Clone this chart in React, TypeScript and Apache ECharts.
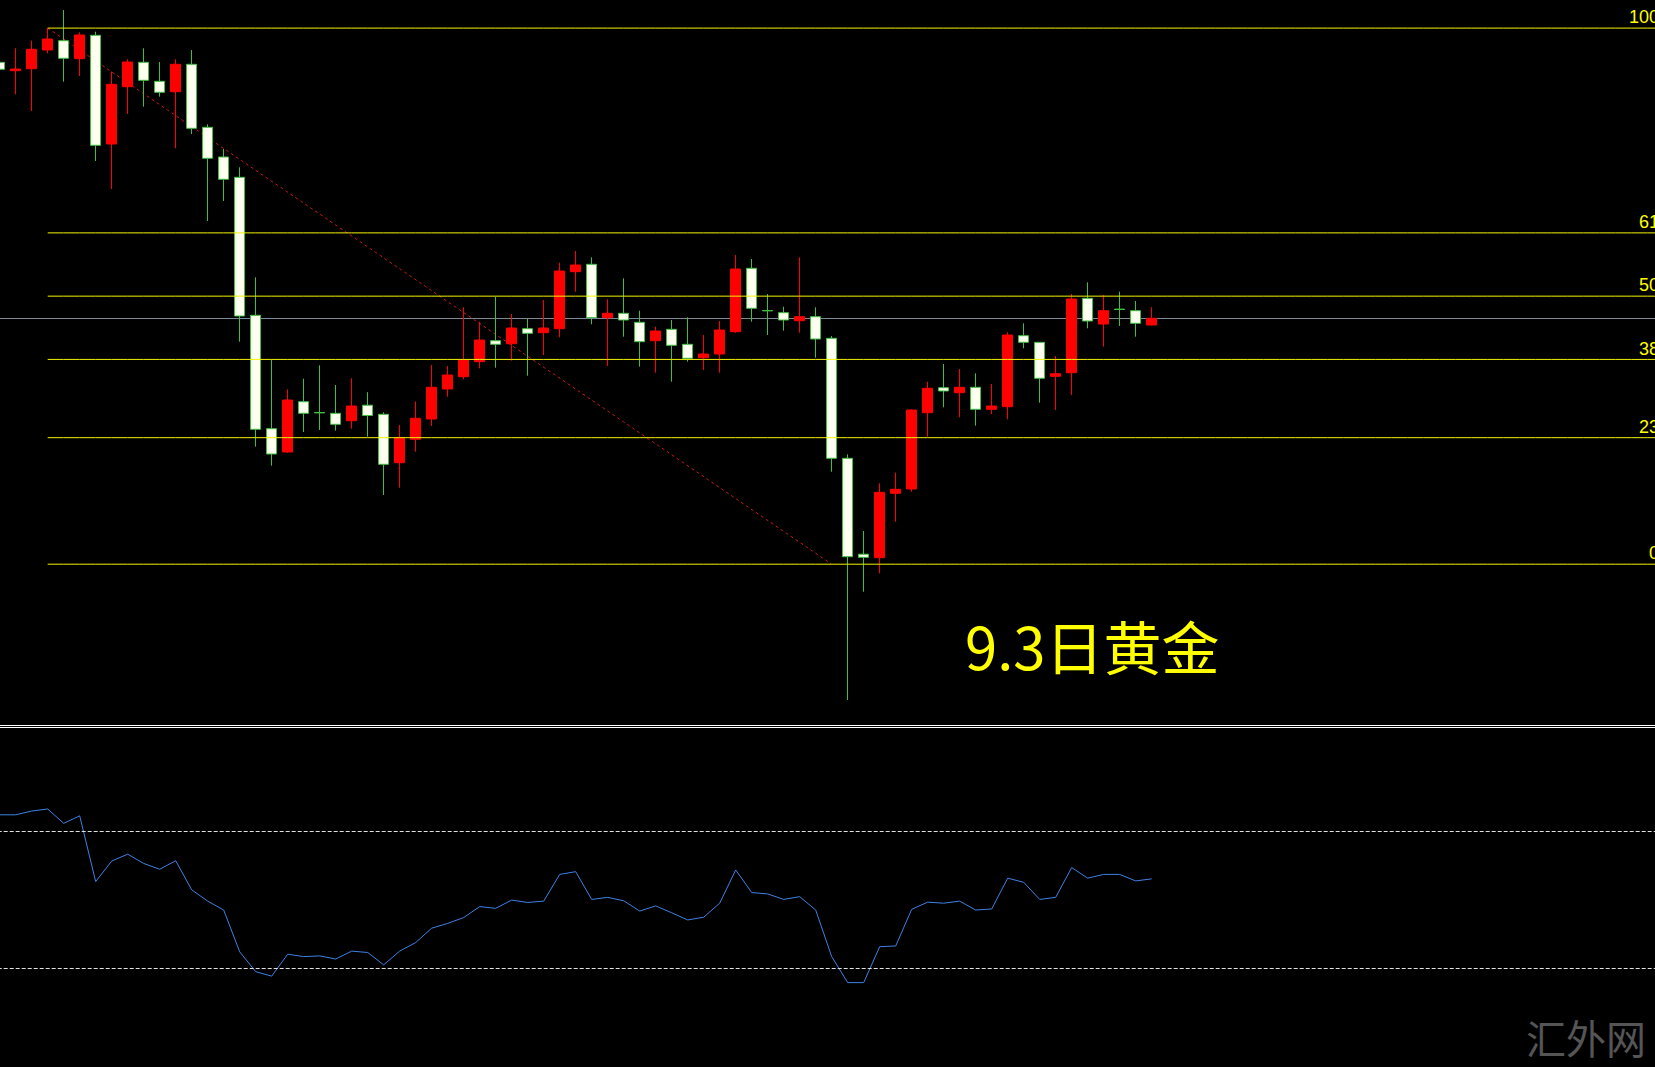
import React, { useEffect, useRef } from 'react';
import * as echarts from 'echarts';

// category slots (hourly bars); only the first 73 carry data, the rest is empty space on the right
const categories: string[] = Array.from({ length: 105 }, (_, i) => String(i));

// candles: [open, close, low, high]  (red = up, white = down)
const candles: number[][] = [
  [1970.19, 1969.49, 1969.42, 1970.32],
  [1969.35, 1969.52, 1966.99, 1971.59],
  [1969.55, 1971.49, 1965.32, 1972.35],
  [1971.42, 1972.52, 1971.09, 1973.61],
  [1972.35, 1970.59, 1968.25, 1975.42],
  [1970.55, 1972.92, 1968.82, 1973.19],
  [1972.89, 1961.89, 1960.32, 1973.25],
  [1962.02, 1967.99, 1957.52, 1969.25],
  [1967.75, 1970.22, 1965.02, 1970.49],
  [1970.19, 1968.39, 1965.75, 1971.59],
  [1968.29, 1967.19, 1966.75, 1970.22],
  [1967.25, 1969.99, 1961.59, 1970.49],
  [1969.99, 1963.59, 1963.02, 1971.42],
  [1963.69, 1960.59, 1954.32, 1963.99],
  [1960.72, 1958.49, 1956.32, 1961.52],
  [1958.69, 1944.82, 1942.25, 1959.69],
  [1944.89, 1933.49, 1931.75, 1948.69],
  [1933.55, 1931.02, 1929.85, 1940.49],
  [1931.22, 1936.42, 1931.12, 1937.49],
  [1936.25, 1935.09, 1933.22, 1938.55],
  [1935.17, 1935.13, 1933.42, 1939.89],
  [1935.09, 1933.99, 1933.35, 1937.92],
  [1934.35, 1935.82, 1933.55, 1938.59],
  [1935.90, 1934.87, 1932.75, 1937.20],
  [1934.99, 1929.99, 1926.92, 1935.19],
  [1930.15, 1932.65, 1927.65, 1933.92],
  [1932.49, 1934.59, 1931.25, 1936.27],
  [1934.52, 1937.69, 1933.82, 1939.92],
  [1937.52, 1938.92, 1936.75, 1939.82],
  [1938.75, 1940.42, 1938.49, 1945.69],
  [1940.25, 1942.42, 1939.59, 1944.25],
  [1942.35, 1941.99, 1939.65, 1946.75],
  [1942.05, 1943.62, 1940.35, 1945.02],
  [1943.55, 1943.09, 1938.85, 1944.52],
  [1943.15, 1943.62, 1940.92, 1946.42],
  [1943.55, 1949.32, 1942.69, 1950.15],
  [1949.25, 1949.92, 1947.25, 1951.32],
  [1949.99, 1944.65, 1943.99, 1950.69],
  [1944.65, 1945.09, 1939.82, 1946.49],
  [1945.09, 1944.42, 1942.75, 1948.59],
  [1944.19, 1942.25, 1939.75, 1945.35],
  [1942.35, 1943.32, 1939.15, 1943.75],
  [1943.49, 1941.89, 1938.25, 1944.42],
  [1941.99, 1940.59, 1940.25, 1944.69],
  [1940.65, 1941.02, 1939.42, 1942.92],
  [1941.02, 1943.42, 1939.15, 1944.32],
  [1943.25, 1949.52, 1943.12, 1950.92],
  [1949.59, 1945.59, 1944.25, 1950.52],
  [1945.37, 1945.33, 1942.92, 1947.02],
  [1945.15, 1944.42, 1943.35, 1945.75],
  [1944.35, 1944.75, 1943.15, 1950.69],
  [1944.75, 1942.52, 1940.65, 1945.69],
  [1942.59, 1930.59, 1929.25, 1942.82],
  [1930.59, 1920.75, 1906.42, 1930.99],
  [1921.00, 1920.69, 1917.25, 1923.32],
  [1920.65, 1927.19, 1919.09, 1928.09],
  [1927.09, 1927.49, 1924.25, 1929.15],
  [1927.52, 1935.42, 1927.25, 1935.49],
  [1935.15, 1937.59, 1932.75, 1938.25],
  [1937.65, 1937.32, 1935.69, 1940.02],
  [1937.15, 1937.69, 1934.69, 1939.52],
  [1937.69, 1935.49, 1933.85, 1939.09],
  [1935.49, 1935.82, 1935.02, 1938.02],
  [1935.75, 1942.92, 1934.49, 1943.19],
  [1942.85, 1942.19, 1941.59, 1944.09],
  [1942.19, 1938.59, 1936.15, 1942.22],
  [1938.79, 1939.05, 1935.42, 1940.82],
  [1939.15, 1946.52, 1936.92, 1947.02],
  [1946.59, 1944.32, 1943.59, 1948.19],
  [1944.02, 1945.35, 1941.75, 1946.92],
  [1945.51, 1945.47, 1943.82, 1947.25],
  [1945.35, 1944.09, 1942.75, 1946.32],
  [1943.92, 1944.59, 1943.89, 1945.69],
];

// RSI values, one per candle
const rsi: number[] = [
  74.8, 74.8, 75.9, 76.5, 72.3, 74.5, 55.3, 61.3, 63.3, 60.6,
  58.9, 61.4, 52.9, 49.6, 47.0, 34.8, 29.0, 27.7, 34.1, 33.4,
  33.6, 32.7, 35.0, 34.6, 31.0, 35.0, 37.5, 41.7, 43.1, 44.8,
  48.0, 47.5, 49.9, 49.2, 49.6, 57.4, 58.2, 50.1, 50.7, 49.7,
  46.7, 48.2, 46.2, 44.1, 44.9, 49.0, 58.7, 52.1, 51.7, 50.1,
  50.9, 47.0, 33.4, 25.8, 25.8, 36.3, 36.5, 47.2, 49.3, 49.0,
  49.6, 47.0, 47.3, 56.3, 55.1, 50.1, 50.7, 59.4, 56.3, 57.4,
  57.4, 55.5, 56.1,
];
const rsiLevels = [70, 30];

// Fibonacci retracement
const fibHigh = 1973.61;
const fibLow = 1920.0;
const fibStartIndex = 3;
const trendEndIndex = 52;
const fibLevels = [100, 61.8, 50, 38.2, 23.6, 0];
const fibLabels = ['100.0', '61.8', '50.0', '38.2', '23.6', '0.0'];

const priceMin = 1904.02;
const priceMax = 1976.42;

const titleText = '9.3日黄金';
const watermarkText = '汇外网';

const fibPrice = (lvl: number) => fibLow + ((fibHigh - fibLow) * lvl) / 100;

export default function App() {
  const ref = useRef<HTMLDivElement>(null);

  useEffect(() => {
    document.body.style.margin = '0';
    document.body.style.background = '#000';
    if (!ref.current) return;
    const chart = echarts.init(ref.current, undefined, { renderer: 'svg' });
    const lastClose = candles[candles.length - 1][1];

    const fibSeries = fibLevels.map((lvl) => ({
      type: 'line',
      xAxisIndex: 0,
      yAxisIndex: 0,
      silent: true,
      symbol: 'none',
      z: 4,
      lineStyle: { color: '#f4f400', width: 1 },
      data: categories.map((_, i) => (i >= fibStartIndex ? fibPrice(lvl) : '-')),
    }));

    const option: any = {
      animation: false,
      backgroundColor: '#000000',
      grid: [
        { left: -8.3, top: 0, width: 1680, height: 724, outerBoundsMode: 'none' },
        { left: -8.3, top: 728.5, width: 1680, height: 342.5, outerBoundsMode: 'none' },
      ],
      xAxis: [
        { type: 'category', gridIndex: 0, data: categories, show: false, boundaryGap: true },
        { type: 'category', gridIndex: 1, data: categories, show: false, boundaryGap: true },
      ],
      yAxis: [
        { type: 'value', gridIndex: 0, min: priceMin, max: priceMax, show: false, splitLine: { show: false } },
        { type: 'value', gridIndex: 1, min: 0, max: 100, show: false, splitLine: { show: false } },
      ],
      series: [
        {
          type: 'candlestick',
          xAxisIndex: 0,
          yAxisIndex: 0,
          data: candles,
          barWidth: 10,
          z: 3,
          itemStyle: {
            color: '#ff0000',
            color0: '#fffff0',
            borderColor: '#ff0000',
            borderColor0: '#3fbf3f',
            borderWidth: 1,
          },
          markLine: {
            silent: true,
            symbol: 'none',
            label: { show: false },
            lineStyle: { color: '#7a8898', width: 1, type: 'solid' },
            data: [{ yAxis: lastClose }],
            z: 2,
          },
        },
        ...fibSeries,
        {
          type: 'line',
          xAxisIndex: 0,
          yAxisIndex: 0,
          silent: true,
          symbol: 'none',
          connectNulls: true,
          z: 2,
          lineStyle: { color: '#c81818', width: 1, type: [3, 3] },
          data: categories.map((_, i) =>
            i === fibStartIndex ? fibHigh : i === trendEndIndex ? fibLow : '-'
          ),
        },
        {
          type: 'line',
          xAxisIndex: 1,
          yAxisIndex: 1,
          silent: true,
          symbol: 'none',
          lineStyle: { color: '#3f82e4', width: 1 },
          data: rsi,
          markLine: {
            silent: true,
            symbol: 'none',
            label: { show: false },
            lineStyle: { color: '#e0e0e0', width: 1, type: [4, 2] },
            data: rsiLevels.map((v) => ({ yAxis: v })),
          },
        },
      ],
    };
    chart.setOption(option);

    const labelGraphics = fibLevels.map((lvl, k) => {
      const y = chart.convertToPixel({ yAxisIndex: 0 } as any, fibPrice(lvl)) as unknown as number;
      return {
        type: 'text',
        silent: true,
        x: 1674,
        y: y - 10.8,
        style: {
          text: fibLabels[k],
          fill: '#ffff00',
          font: '18px "Liberation Sans", Arial, sans-serif',
          textAlign: 'right',
          textVerticalAlign: 'middle',
        },
      };
    });

    chart.setOption({
      graphic: [
        {
          type: 'line',
          silent: true,
          shape: { x1: 0, y1: 725.5, x2: 1655, y2: 725.5 },
          style: { stroke: '#ffffff', lineWidth: 1 },
        },
        {
          type: 'line',
          silent: true,
          shape: { x1: 0, y1: 727.5, x2: 1655, y2: 727.5 },
          style: { stroke: '#ffffff', lineWidth: 1 },
        },
        ...labelGraphics,
        {
          type: 'text',
          silent: true,
          x: 965,
          y: 645,
          style: {
            text: titleText,
            fill: '#ffff00',
            font: '58px "Noto Sans CJK SC", sans-serif',
            textAlign: 'left',
            textVerticalAlign: 'middle',
          },
        },
        {
          type: 'text',
          silent: true,
          x: 1586,
          y: 1037,
          style: {
            text: watermarkText,
            fill: '#555555',
            font: '40px "Noto Sans CJK SC", sans-serif',
            textAlign: 'center',
            textVerticalAlign: 'middle',
          },
        },
      ],
    });

    return () => {
      chart.dispose();
    };
  }, []);

  return <div ref={ref} style={{ width: 1655, height: 1067, background: '#000' }} />;
}
